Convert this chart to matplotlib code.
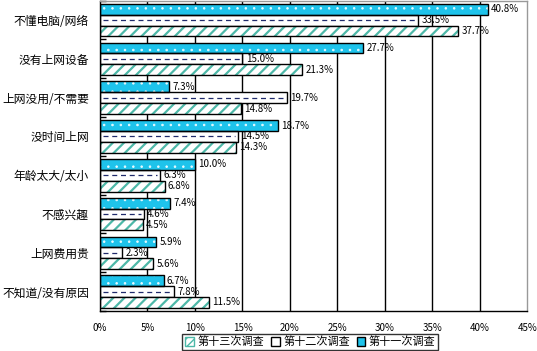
import numpy as np
import matplotlib
matplotlib.use("Agg")
import matplotlib.pyplot as plt
from matplotlib.patches import Patch

plt.rcParams['font.family'] = ['Noto Sans CJK SC', 'DejaVu Sans']

# 数据
categories = ['不懂电脑/网络', '没有上网设备', '上网没用/不需要', '没时间上网',
              '年龄太大/太小', '不感兴趣', '上网费用贵', '不知道/没有原因']
survey11 = [40.8, 27.7, 7.3, 18.7, 10.0, 7.4, 5.9, 6.7]
survey12 = [33.5, 15.0, 19.7, 14.5, 6.3, 4.6, 2.3, 7.8]
survey13 = [37.7, 21.3, 14.8, 14.3, 6.8, 4.5, 5.6, 11.5]
series_names = ['第十三次调查', '第十二次调查', '第十一次调查']
xticks = [0, 5, 10, 15, 20, 25, 30, 35, 40, 45]

blue = '#1EC3EB'
teal = '#4DB8A8'
navy = '#1F2A6B'


def main():
    fig = plt.figure(figsize=(5.37, 3.51), dpi=100)
    ax = fig.add_axes([0.1862, 0.114, 0.796, 0.884])

    n = len(categories)
    y = np.arange(n)
    h = 0.28

    ax.set_xlim(0, 45)
    ax.set_ylim(n - 0.5, -0.5)

    # 网格线
    for t in xticks[1:-1]:
        ax.axvline(t, color='black', lw=1.0, zorder=0)

    y11 = y - h
    y12 = y
    y13 = y + h

    # 第十一次：蓝色带白点
    with plt.rc_context({'hatch.linewidth': 0.6}):
        ax.barh(y11, survey11, height=h, color=blue, edgecolor='#E8FAFF', hatch='..', lw=0, zorder=2)
    ax.barh(y11, survey11, height=h, fill=False, edgecolor='black', lw=1.0, zorder=3)

    # 第十二次：白色带虚线
    ax.barh(y12, survey12, height=h, color='white', edgecolor='black', lw=1.0, zorder=2)
    ax.hlines(y12, 0.3, np.array(survey12) - 0.3, colors=navy, linestyles=(0, (4, 3)), lw=0.9, zorder=3)

    # 第十三次：白底青色斜线
    with plt.rc_context({'hatch.linewidth': 1.6}):
        ax.barh(y13, survey13, height=h, color='white', edgecolor=teal, hatch='///', lw=0, zorder=2)
    ax.barh(y13, survey13, height=h, fill=False, edgecolor='black', lw=1.0, zorder=3)

    for ys, vals in [(y11, survey11), (y12, survey12), (y13, survey13)]:
        for yy, v in zip(ys, vals):
            ax.text(v + 0.35, yy, '%.1f%%' % v, va='center', ha='left', fontsize=7, zorder=4)

    ax.set_yticks(y)
    ax.set_yticklabels(categories, fontsize=8.5)
    ax.tick_params(axis='y', length=0, pad=8)
    ax.set_yticks(np.arange(n + 1) - 0.5, minor=True)
    ax.tick_params(axis='y', which='minor', direction='in', length=4, width=1)

    ax.set_xticks(xticks)
    ax.set_xticklabels(['%d%%' % t for t in xticks], fontsize=7)
    ax.tick_params(axis='x', length=0, pad=9)

    for s in ax.spines.values():
        s.set_color('black')
        s.set_linewidth(1.0)
    ax.spines['top'].set_color('#999999')
    ax.spines['right'].set_color('#999999')

    handles = [
        Patch(facecolor='white', edgecolor=teal, hatch='////'),
        Patch(facecolor='white', edgecolor='black'),
        Patch(facecolor=blue, edgecolor='black'),
    ]
    leg = fig.legend(handles, series_names, loc='lower center', ncol=3,
                     bbox_to_anchor=(0.578, 0.0), fontsize=8, frameon=True,
                     fancybox=False, handlelength=0.8, handleheight=0.8,
                     handletextpad=0.3, columnspacing=0.6, borderpad=0.25,
                     borderaxespad=0.1)
    leg.get_frame().set_edgecolor('black')
    leg.get_frame().set_linewidth(1.0)

    fig.savefig('out.png', dpi=100)


if __name__ == "__main__":
    main()
